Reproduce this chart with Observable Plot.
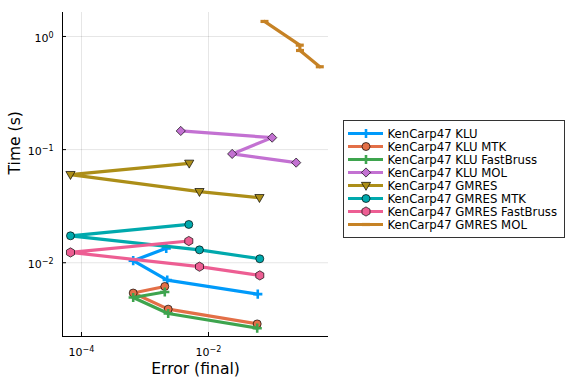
<!DOCTYPE html>
<html><head><meta charset="utf-8">
<script src="https://cdn.jsdelivr.net/npm/d3@7"></script>
<script src="https://cdn.jsdelivr.net/npm/@observablehq/plot@0.6"></script>
<style>body{margin:0;background:#fff}</style>
</head><body><div id="chart"></div>
<script>
// ---- data ----
const seriesNames = ["KenCarp47 KLU","KenCarp47 KLU MTK","KenCarp47 KLU FastBruss","KenCarp47 KLU MOL",
  "KenCarp47 GMRES","KenCarp47 GMRES MTK","KenCarp47 GMRES FastBruss","KenCarp47 GMRES MOL"];
const colors = ["#009AFA","#E36F47","#3EA44E","#C371D2","#AC8E18","#00A9AD","#ED5E93","#C68225"];
const markerNames = ["cross","circle","cross","diamond","dtriangle","circle","hexagon","hline"];

const errKLU = [0.00216, 0.000652, 0.00224, 0.0597];
const timeKLU = [0.0134, 0.01042, 0.00703, 0.00528];
const errKLUMTK = [0.00205, 0.000652, 0.00232, 0.0585];
const timeKLUMTK = [0.00617, 0.00540, 0.00389, 0.00288];
const errKLUFast = [0.00205, 0.000652, 0.00232, 0.0585];
const timeKLUFast = [0.00551, 0.00493, 0.00356, 0.00264];
const errKLUMOL = [0.00366, 0.1007, 0.0236, 0.2404];
const timeKLUMOL = [0.1462, 0.1276, 0.0916, 0.0767];
const errGMRES = [0.00497, 0.0000671, 0.00721, 0.0635];
const timeGMRES = [0.0757, 0.0601, 0.0425, 0.0376];
const errGMRESMTK = [0.00490, 0.0000671, 0.00721, 0.0643];
const timeGMRESMTK = [0.0218, 0.0173, 0.0130, 0.01084];
const errGMRESFast = [0.00490, 0.0000671, 0.00721, 0.0643];
const timeGMRESFast = [0.01556, 0.01233, 0.00923, 0.00773];
const errGMRESMOL = [0.0762, 0.274, 0.276, 0.566];
const timeGMRESMOL = [1.358, 0.838, 0.752, 0.540];

const xTicks = [1e-4, 1e-2];
const xTickLabels = ["10^\u22124", "10^\u22122"];
const yTicks = [1, 0.1, 0.01];
const yTickLabels = ["10^0", "10^\u22121", "10^\u22122"];
const xDomain = [Math.pow(10,-4.299), Math.pow(10,-0.11)];
const yDomain = [Math.pow(10,-2.652), Math.pow(10,0.212)];

const errs = [errKLU, errKLUMTK, errKLUFast, errKLUMOL, errGMRES, errGMRESMTK, errGMRESFast, errGMRESMOL];
const times = [timeKLU, timeKLUMTK, timeKLUFast, timeKLUMOL, timeGMRES, timeGMRESMTK, timeGMRESFast, timeGMRESMOL];

// ---- symbols ----
const rad = s => Math.sqrt(s / Math.PI);
const symbols = {
  circle: {draw(c, s){ const r = rad(s); c.moveTo(r,0); c.arc(0,0,r,0,2*Math.PI); c.closePath(); }},
  cross: {draw(c, s){ const r = rad(s), w = r*0.28;
    c.moveTo(-r,-w); c.lineTo(-w,-w); c.lineTo(-w,-r); c.lineTo(w,-r); c.lineTo(w,-w); c.lineTo(r,-w);
    c.lineTo(r,w); c.lineTo(w,w); c.lineTo(w,r); c.lineTo(-w,r); c.lineTo(-w,w); c.lineTo(-r,w); c.closePath(); }},
  diamond: {draw(c, s){ const r = rad(s)*1.15; c.moveTo(0,-r); c.lineTo(r,0); c.lineTo(0,r); c.lineTo(-r,0); c.closePath(); }},
  dtriangle: {draw(c, s){ const r = rad(s); c.moveTo(-r*1.1,-r*0.75); c.lineTo(r*1.1,-r*0.75); c.lineTo(0,r*1.15); c.closePath(); }},
  hexagon: {draw(c, s){ const r = rad(s)*1.1; for (let k=0;k<6;k++){ const a = Math.PI/6 + k*Math.PI/3; const px=r*Math.cos(a), py=r*Math.sin(a); k?c.lineTo(px,py):c.moveTo(px,py);} c.closePath(); }},
  hline: {draw(c, s){ const r = rad(s), h = 1.6; c.moveTo(-r,-h); c.lineTo(r,-h); c.lineTo(r,h); c.lineTo(-r,h); c.closePath(); }}
};
const markerR = {circle: 4, cross: 4.6, diamond: 4, dtriangle: 4.2, hexagon: 4.2, hline: 4};
const outlined = m => m !== "cross" && m !== "hline";

const rows = [];
seriesNames.forEach((name, i) => errs[i].forEach((e, j) => rows.push({series: name, err: e, time: times[i][j]})));

const marks = [
  Plot.gridX({ticks: xTicks, stroke: "#000", strokeOpacity: 0.1, strokeWidth: 1}),
  Plot.gridY({ticks: yTicks, stroke: "#000", strokeOpacity: 0.1, strokeWidth: 1}),
  Plot.ruleX([xDomain[0]], {stroke: "#000", strokeWidth: 1}),
  Plot.ruleY([yDomain[0]], {stroke: "#000", strokeWidth: 1}),
  Plot.ruleX(xTicks, {x: d => d, insetTop: 320, stroke: "#000"}),
  Plot.ruleY(yTicks, {y: d => d, insetRight: 262, stroke: "#000"}),
  Plot.axisX({ticks: xTicks, tickSize: 0, tickPadding: 12, label: null, fontSize: 11,
    tickFormat: d => xTickLabels[xTicks.indexOf(d)]}),
  Plot.axisY({ticks: yTicks, tickSize: 0, tickPadding: 9, label: null, fontSize: 11, dy: 2,
    tickFormat: d => yTickLabels[yTicks.indexOf(d)]}),
  Plot.text(["Error (final)"], {frameAnchor: "bottom", dy: 37, fontSize: 15.6}),
  Plot.text(["Time (s)"], {frameAnchor: "left", dx: -48, rotate: -90, fontSize: 15.6})
];
seriesNames.forEach((name, i) => {
  const d = rows.filter(r => r.series === name);
  const m = markerNames[i];
  marks.push(Plot.line(d, {x: "err", y: "time", stroke: colors[i], strokeWidth: 3.2, strokeLinejoin: "round"}));
  marks.push(Plot.dot(d, {x: "err", y: "time", symbol: symbols[m], r: markerR[m], fill: colors[i],
    stroke: outlined(m) ? "#000" : "none", strokeWidth: 0.8, strokeOpacity: 0.85}));
});

const chart = Plot.plot({
  width: 576, height: 384,
  marginLeft: 62, marginRight: 248, marginTop: 12, marginBottom: 48,
  style: {fontFamily: "DejaVu Sans", fontSize: "11px", background: "white", color: "black"},
  x: {type: "log", domain: xDomain, axis: null},
  y: {type: "log", domain: yDomain, axis: null},
  marks
});

// superscript exponents on tick labels
d3.select(chart).selectAll('g[aria-label="x-axis tick label"] text, g[aria-label="y-axis tick label"] text').each(function(){
  const t = this.textContent;
  if (!t.includes("^")) return;
  const [base, exp] = t.split("^");
  const sel = d3.select(this);
  sel.text(base);
  sel.append("tspan").attr("dy", "-0.55em").attr("font-size", "8px").text(exp);
});

// legend
const svg = d3.select(chart);
const lg = svg.append("g").attr("font-family", "DejaVu Sans").attr("font-size", 11.7).attr("text-anchor", "start");
lg.append("rect").attr("x", 343.5).attr("y", 120.5).attr("width", 221).attr("height", 117)
  .attr("fill", "white").attr("stroke", "#333").attr("stroke-width", 1);
seriesNames.forEach((name, i) => {
  const y = 133.5 + i * 13;
  lg.append("line").attr("x1", 348).attr("x2", 383).attr("y1", y).attr("y2", y)
    .attr("stroke", colors[i]).attr("stroke-width", 3.2);
  const m = markerNames[i];
  const r = markerR[m];
  lg.append("path").attr("transform", `translate(366,${y})`)
    .attr("d", d3.symbol(symbols[m], Math.PI * r * r)())
    .attr("fill", colors[i]).attr("stroke", outlined(m) ? "#000" : "none")
    .attr("stroke-width", 0.8).attr("stroke-opacity", 0.85);
  lg.append("text").attr("x", 387.5).attr("y", y + 4.2).attr("text-anchor", "start").attr("fill", "#000").text(name);
});

document.getElementById("chart").appendChild(chart);
</script>
</body></html>
